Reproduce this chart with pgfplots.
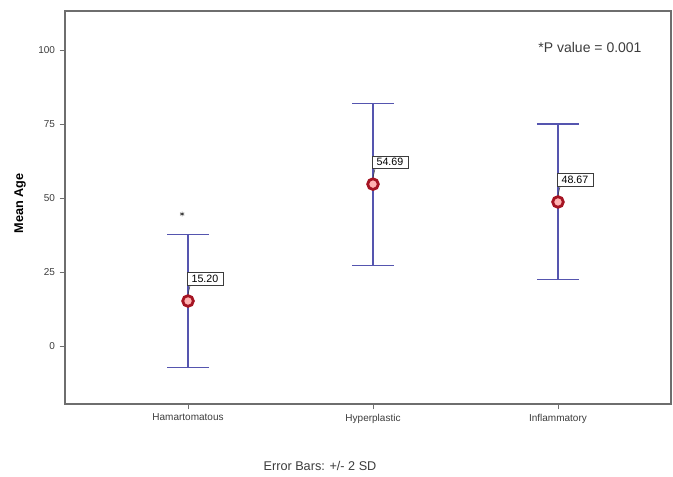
\documentclass[border=0pt]{standalone}
\usepackage{pgfplots}
\pgfplotsset{compat=1.18}
\usepackage{fontspec}
\setmainfont{Liberation Sans}
\definecolor{ebblue}{RGB}{85,85,175}
\definecolor{mkred}{RGB}{165,20,35}
\definecolor{axgray}{RGB}{110,110,110}
\definecolor{txtgray}{RGB}{60,60,60}
\begin{document}
\begin{tikzpicture}[x=1pt,y=1pt]
\path[use as bounding box] (0,0) rectangle (504.75,357.75);
\begin{axis}[
  at={(48.75pt,54.75pt)}, anchor=south west,
  scale only axis, width=454.5pt, height=294.75pt,
  xmin=0.335, xmax=3.611, ymin=-19.6, ymax=113.2,
  xtick={1,2,3}, xticklabels={Hamartomatous,Hyperplastic,Inflammatory},
  ytick={0,25,50,75,100},
  tick align=outside, major tick length=4pt,
  tick style={axgray, line width=0.6pt},
  xtick pos=bottom, ytick pos=left,
  axis line style={axgray, line width=1pt},
  /pgf/number format/assume math mode=true,
  ticklabel style={font=\fontsize{7.5}{8}\selectfont, text=txtgray},
  ylabel={\textbf{Mean Age}},
  ylabel style={at={(axis description cs:-0.074,0.511)}, anchor=center, font=\fontsize{9.5}{11}\selectfont},
  clip=false,
]
% error bars (+/- 2 SD)
\addplot[ebblue, line width=0.8pt, draw=none, mark=none,
  error bars/.cd, y dir=both, y explicit,
  error bar style={ebblue, line width=0.8pt},
  error mark options={ebblue, rotate=90, mark size=15.75pt, line width=0.8pt}]
  coordinates {
  (1,15.20) +- (0,22.5)
  (2,54.69) +- (0,27.35)
  (3,48.67) +- (0,26.35)
};
% means
\addplot[only marks, mark=*, mark size=4pt,
  mark options={draw=mkred, fill=white!70!red, line width=2.1pt}]
  coordinates {(1,15.20) (2,54.69) (3,48.67)};
% outlier star
\addplot[only marks, mark=asterisk, mark size=1.8pt, mark options={txtgray, line width=0.5pt}]
  coordinates {(0.968,44.6)};
% value labels
\foreach \xx/\yy/\lab in {1/15.20/15.20, 2/54.69/54.69, 3/48.67/48.67}{
  \edef\tmp{\noexpand\draw[txtgray, line width=0.4pt] ([yshift=5pt]axis cs:\xx,\yy) -- ([xshift=1.5pt,yshift=11.5pt]axis cs:\xx,\yy);
  \noexpand\node[draw=txtgray, line width=0.4pt, fill=white, anchor=south west, inner sep=1pt,
    minimum width=27pt, minimum height=9.5pt, font=\noexpand\fontsize{8}{9}\noexpand\selectfont, text=black]
    at ([xshift=-1pt,yshift=11.5pt]axis cs:\xx,\yy) {\lab};}
  \tmp
}
\node[font=\fontsize{10.5}{12}\selectfont, text=txtgray] at (axis cs:3.173,101) {*P value = 0.001};
\end{axis}
\node[font=\fontsize{9.5}{11}\selectfont, text=txtgray] at (240,8.25) {Error Bars: +/- 2 SD};
\end{tikzpicture}
\end{document}
